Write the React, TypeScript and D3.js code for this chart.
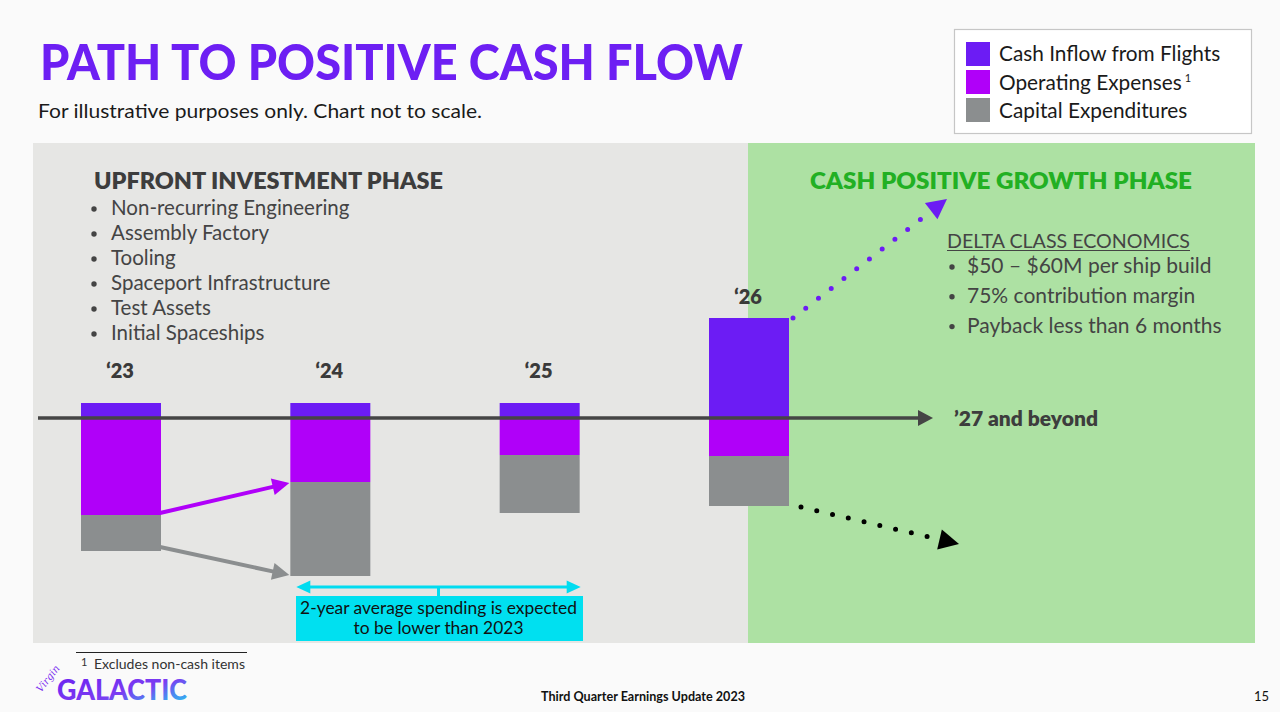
import React from "react";
import * as d3 from "d3";

const years = ["‘23", "‘24", "‘25", "‘26"];
const cashInflow = [15, 15, 15, 100];
const operatingExpenses = [97, 64, 37, 38];
const capitalExpenditures = [36, 94, 58, 50];

const seriesNames = ["Cash Inflow from Flights", "Operating Expenses", "Capital Expenditures"];
const seriesColors = ["#6c1cf4", "#b000f9", "#8b8e8f"];

const upfrontItems = [
  "Non-recurring Engineering",
  "Assembly Factory",
  "Tooling",
  "Spaceport Infrastructure",
  "Test Assets",
  "Initial Spaceships",
];
const deltaItems = ["$50 – $60M per ship build", "75% contribution margin", "Payback less than 6 months"];

const FONT = "Lato, 'Noto Sans', sans-serif";

function head(tx: number, ty: number, ang: number, len: number, wid: number) {
  const ux = Math.cos(ang), uy = Math.sin(ang);
  const bx = tx - ux * len, by = ty - uy * len;
  const px = -uy * wid / 2, py = ux * wid / 2;
  return `${tx},${ty} ${bx + px},${by + py} ${bx - px},${by - py}`;
}

function Arrow({ x1, y1, x2, y2, color, width, hl, hw }: any) {
  const ang = Math.atan2(y2 - y1, x2 - x1);
  const bx = x2 - Math.cos(ang) * (hl - 1), by = y2 - Math.sin(ang) * (hl - 1);
  return (
    <g>
      <line x1={x1} y1={y1} x2={bx} y2={by} stroke={color} strokeWidth={width} />
      <polygon points={head(x2, y2, ang, hl, hw)} fill={color} />
    </g>
  );
}

function Dotted({ x1, y1, dx, dy, dotsLen, color }: any) {
  const L = Math.hypot(dx, dy);
  const ux = dx / L, uy = dy / L;
  const ang = Math.atan2(dy, dx);
  return (
    <g>
      <line
        x1={x1}
        y1={y1}
        x2={x1 + ux * dotsLen}
        y2={y1 + uy * dotsLen}
        stroke={color}
        strokeWidth={5}
        strokeLinecap="round"
        strokeDasharray={`0 ${dotsLen / Math.round(dotsLen / 16)}`}
      />
      <polygon points={head(x1 + dx, y1 + dy, ang, 20, 20.5)} fill={color} />
    </g>
  );
}

export default function App() {
  const x = d3.scalePoint<string>().domain(years).range([121, 749]);
  const y = d3.scaleLinear().domain([-100, 100]).range([518, 318]);
  const bw = 80;
  const y0 = y(0);

  const bars = years.map((yr, i) => {
    const cx = x(yr)!;
    const inTop = y(cashInflow[i]);
    const opBot = y(-operatingExpenses[i]);
    const capBot = y(-operatingExpenses[i] - capitalExpenditures[i]);
    return { yr, cx, inTop, opBot, capBot };
  });

  const b23 = bars[0], b24 = bars[1], b25 = bars[2], b26 = bars[3];
  const cyL = b24.cx - 34, cyR = b25.cx + 41, cyY = b24.capBot + 11;
  const cyMid = (cyL + cyR) / 2;

  return (
    <svg
      width={1280}
      height={712}
      style={{ position: "absolute", left: 0, top: 0, display: "block" }}
      fontFamily={FONT}
    >
      <defs>
        <linearGradient id="logoGrad" x1="0" y1="0" x2="1" y2="1">
          <stop offset="0" stopColor="#6a1ff0" />
          <stop offset="0.55" stopColor="#7b3cf2" />
          <stop offset="1" stopColor="#1fd2f0" />
        </linearGradient>
      </defs>
      <rect x={0} y={0} width={1280} height={712} fill="#fafafa" />

      {/* Title */}
      <text x={40} y={80} fontSize={50} fontWeight={900} fill="#6d1ff3" textLength={703} lengthAdjust="spacingAndGlyphs">
        PATH TO POSITIVE CASH FLOW
      </text>
      <text x={38} y={118} fontSize={20} fill="#1a1a1a" textLength={444} lengthAdjust="spacingAndGlyphs">
        For illustrative purposes only. Chart not to scale.
      </text>

      {/* Legend */}
      <rect x={954.5} y={29.5} width={297} height={104} fill="#ffffff" stroke="#c6c6c6" strokeWidth={1.2} />
      {seriesNames.map((n, i) => (
        <g key={n}>
          <rect x={966} y={42 + i * 28} width={24} height={24} fill={seriesColors[i]} />
          <text x={999} y={61 + i * 28.5} fontSize={20.8} fill="#1a1a1a">
            {n}
            {i === 1 ? (
              <tspan fontSize={11} dx={3} dy={-8}>
                1
              </tspan>
            ) : null}
          </text>
        </g>
      ))}

      {/* Panels */}
      <rect x={33} y={143} width={715} height={500} fill="#e6e6e4" />
      <rect x={748} y={143} width={507} height={500} fill="#ade1a3" />

      {/* Upfront phase */}
      <text x={94} y={189} fontSize={23} fontWeight={800} fill="#3d3d3d" textLength={349} lengthAdjust="spacingAndGlyphs">
        UPFRONT INVESTMENT PHASE
      </text>
      {upfrontItems.map((t, i) => (
        <g key={t}>
          <circle cx={94} cy={209 + i * 25} r={2.7} fill="#444" />
          <text x={111} y={215 + i * 25} fontSize={20.5} fill="#444">
            {t}
          </text>
        </g>
      ))}

      {/* Cash positive */}
      <text x={810} y={189} fontSize={23} fontWeight={800} fill="#22b023" textLength={382} lengthAdjust="spacingAndGlyphs">
        CASH POSITIVE GROWTH PHASE
      </text>
      <text x={947} y={248} fontSize={20} fill="#444" textLength={243} lengthAdjust="spacingAndGlyphs">
        DELTA CLASS ECONOMICS
      </text>
      <line x1={947} x2={1190} y1={250.5} y2={250.5} stroke="#444" strokeWidth={1.2} />
      {deltaItems.map((t, i) => (
        <g key={t}>
          <circle cx={952} cy={267 + i * 29.8} r={2.7} fill="#444" />
          <text x={967} y={273 + i * 29.8} fontSize={21} fill="#444">
            {t}
          </text>
        </g>
      ))}

      {/* Bars */}
      {bars.map((b) => (
        <g key={b.yr}>
          <rect x={b.cx - bw / 2} y={b.inTop} width={bw} height={y0 - b.inTop} fill={seriesColors[0]} />
          <rect x={b.cx - bw / 2} y={y0} width={bw} height={b.opBot - y0} fill={seriesColors[1]} />
          <rect x={b.cx - bw / 2} y={b.opBot} width={bw} height={b.capBot - b.opBot} fill={seriesColors[2]} />
          <text
            x={b.cx - 1}
            y={Math.min(378, b.inTop - 14)}
            fontSize={20}
            fontWeight={800}
            fill="#3a3a3a"
            textAnchor="middle"
          >
            {b.yr}
          </text>
        </g>
      ))}

      {/* Axis */}
      <Arrow x1={38} y1={y0} x2={933} y2={y0} color="#454545" width={3.5} hl={15} hw={16} />
      <text x={954} y={426} fontSize={21} fontWeight={800} fill="#3d3d3d" textLength={144} lengthAdjust="spacingAndGlyphs">
        ’27 and beyond
      </text>

      {/* Arrows between bars */}
      <Arrow
        x1={b23.cx + bw / 2 - 1}
        y1={b23.opBot - 2}
        x2={b24.cx - bw / 2 - 1}
        y2={b24.opBot + 1}
        color="#b000f9"
        width={4}
        hl={17}
        hw={17}
      />
      <Arrow
        x1={b23.cx + bw / 2 - 1}
        y1={b23.capBot - 4}
        x2={b24.cx - bw / 2 - 1}
        y2={b24.capBot - 1}
        color="#8b8e8f"
        width={4}
        hl={17}
        hw={17}
      />

      {/* Dotted arrows */}
      <Dotted x1={b26.cx + 44} y1={b26.inTop} dx={154} dy={-119} dotsLen={161} color="#6c1cf4" />
      <Dotted x1={b26.cx + 52} y1={b26.capBot + 1} dx={158} dy={37} dotsLen={129.5} color="#000" />

      {/* Cyan annotation */}
      <line x1={cyL + 12} x2={cyR - 12} y1={cyY} y2={cyY} stroke="#00dcf0" strokeWidth={3} />
      <polygon points={head(cyL, cyY, Math.PI, 14, 13)} fill="#00dcf0" />
      <polygon points={head(cyR, cyY, 0, 14, 13)} fill="#00dcf0" />
      <line x1={cyMid} x2={cyMid} y1={cyY} y2={597} stroke="#00dcf0" strokeWidth={3} />
      <rect x={296} y={596} width={287} height={45} fill="#00e0f0" />
      <text x={cyMid} y={614} fontSize={17.4} fill="#111" textAnchor="middle">
        2-year average spending is expected
      </text>
      <text x={cyMid} y={634} fontSize={17.4} fill="#111" textAnchor="middle">
        to be lower than 2023
      </text>

      {/* Footnote */}
      <line x1={76} x2={247} y1={652.5} y2={652.5} stroke="#222" strokeWidth={1.2} />
      <text x={81} y={666} fontSize={11} fill="#333">
        1
      </text>
      <text x={94} y={669} fontSize={13} fill="#333" textLength={151} lengthAdjust="spacingAndGlyphs">
        Excludes non-cash items
      </text>

      {/* Logo */}
      <text
        x={41}
        y={693}
        fontSize={10}
        fontStyle="italic"
        fontFamily="'DejaVu Serif', serif"
        fill="#7b2ff0"
        transform="rotate(-52 41 693)"
      >
        Virgin
      </text>
      <text x={57} y={700} fontSize={28} fontWeight={900} fill="url(#logoGrad)" textLength={130} lengthAdjust="spacingAndGlyphs">
        GALACTIC
      </text>

      {/* Footer */}
      <text x={541} y={701} fontSize={13} fontWeight={700} fill="#111" textLength={204} lengthAdjust="spacingAndGlyphs">
        Third Quarter Earnings Update 2023
      </text>
      <text x={1254} y={701} fontSize={13} fill="#111">
        15
      </text>
    </svg>
  );
}
